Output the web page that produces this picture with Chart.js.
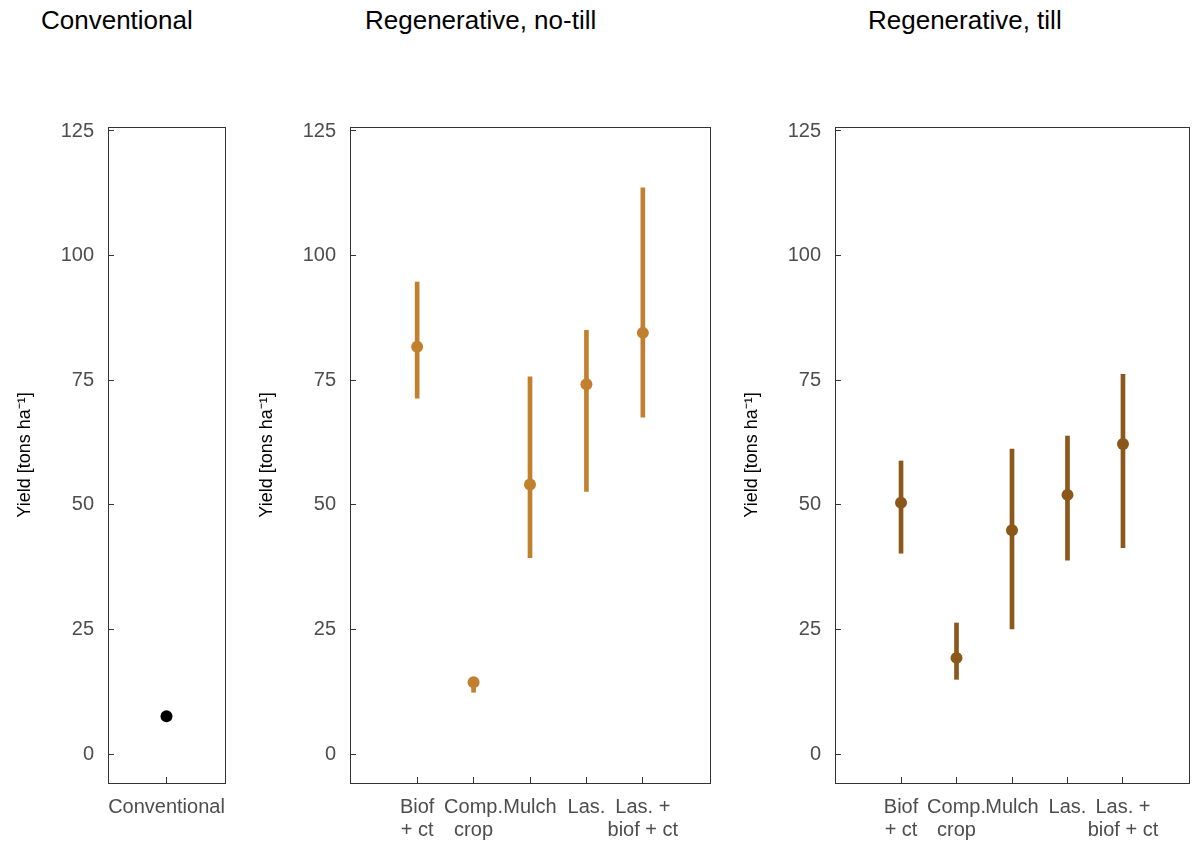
<!DOCTYPE html>
<html>
<head>
<meta charset="utf-8">
<script src="https://cdn.jsdelivr.net/npm/chart.js@4.4.1/dist/chart.umd.min.js"></script>
<style>
  html, body { margin: 0; padding: 0; background: #fff; overflow: hidden; }
  #wrap { position: relative; width: 1192px; height: 843px; overflow: hidden; }
  #wrap canvas { position: absolute; top: 0; }
  .panel-title { position: absolute; top: 5px; font-family: "Liberation Sans", Arial, sans-serif; font-size: 26px; line-height: 30px; color: #000; white-space: nowrap; }
</style>
</head>
<body>
<div id="wrap">
  <div class="panel-title" style="left:41px">Conventional</div>
  <div class="panel-title" style="left:365px">Regenerative, no-till</div>
  <div class="panel-title" style="left:868px">Regenerative, till</div>
  <canvas id="conv" width="240" height="843" style="left:0px"></canvas>
  <canvas id="notill" width="480" height="843" style="left:240px"></canvas>
  <canvas id="till" width="470" height="843" style="left:725px"></canvas>
</div>
<script>
// values
var yTicks = [0, 25, 50, 75, 100, 125];

var convLabels = [['Conventional']];
var convMean = [7.6];

var regenLabels = [['Biof', '+ ct'], ['Comp.', 'crop'], ['Mulch'], ['Las.'], ['Las. +', 'biof + ct']];

var noTillMean = [81.7, 14.4, 54.1, 74.2, 84.5];
var noTillLow = [71.4, 12.4, 39.4, 52.7, 67.6];
var noTillHigh = [94.7, 15.4, 75.7, 85.0, 113.6];

var tillMean = [50.4, 19.3, 44.9, 52.0, 62.2];
var tillLow = [40.3, 15.0, 25.1, 38.9, 41.4];
var tillHigh = [58.8, 26.3, 61.2, 63.8, 76.2];

var convColor = '#000000';
var noTillColor = '#C2802F';
var tillColor = '#8B5819';
var axisColor = '#333333';
var tickColor = '#4d4d4d';
var fontFamily = '"Liberation Sans", Arial, sans-serif';

Chart.defaults.font.family = fontFamily;

// box around each panel (ggplot theme_bw style border)
var panelBox = {
    id: 'panelBox',
    afterDraw: function (chart) {
        var a = chart.chartArea, ctx = chart.ctx;
        ctx.save();
        ctx.strokeStyle = axisColor;
        ctx.lineWidth = 1;
        ctx.strokeRect(Math.round(a.left) + 0.5, Math.round(a.top) + 0.5,
            Math.round(a.right - a.left), Math.round(a.bottom - a.top));
        ctx.restore();
    }
};

function makePanel(id, cfg) {
    var datasets = [];
    datasets.push({
        type: 'scatter',
        data: cfg.mean.map(function (m, i) { return {x: i, y: m}; }),
        backgroundColor: cfg.color,
        pointRadius: 6,
        pointBorderWidth: 0,
        order: 0
    });
    if (cfg.low) {
        datasets.push({
            type: 'bar',
            data: cfg.low.map(function (l, i) { return {x: i, y: [l, cfg.high[i]]}; }),
            backgroundColor: cfg.color,
            barThickness: 4,
            order: 1
        });
    }

    return new Chart(document.getElementById(id), {
        type: 'scatter',
        data: {datasets: datasets},
        plugins: [panelBox],
        options: {
            responsive: false,
            animation: false,
            devicePixelRatio: 1,
            layout: {padding: {top: 127, right: cfg.rightPad, bottom: 0, left: 0}},
            plugins: {legend: {display: false}, tooltip: {enabled: false}},
            scales: {
                x: {
                    type: 'linear',
                    min: cfg.xMin,
                    max: cfg.xMax,
                    offset: false,
                    afterBuildTicks: function (scale) {
                        scale.ticks = cfg.labels.map(function (l, i) { return {value: i}; });
                    },
                    afterFit: function (scale) {
                        // labels may hang past the panel, don't let them squeeze it
                        scale.height = 60;
                        scale.paddingLeft = 0;
                        scale.paddingRight = 0;
                    },
                    grid: {drawOnChartArea: false, offset: false, tickLength: -6, color: axisColor, lineWidth: 1},
                    border: {display: false},
                    ticks: {
                        autoSkip: false,
                        maxRotation: 0,
                        color: tickColor,
                        font: {size: 20, lineHeight: 1.15},
                        padding: 19,
                        callback: function (v, i) { return cfg.labels[i]; }
                    }
                },
                y: {
                    type: 'linear',
                    min: -5.8,
                    max: 125.8,
                    afterBuildTicks: function (scale) {
                        scale.ticks = yTicks.map(function (v) { return {value: v}; });
                    },
                    afterFit: function (scale) {
                        scale.width = cfg.yWidth;
                        scale.paddingTop = 0;
                        scale.paddingBottom = 0;
                    },
                    grid: {drawOnChartArea: false, tickLength: -6, color: axisColor, lineWidth: 1},
                    border: {display: false},
                    ticks: {color: tickColor, font: {size: 20}, padding: 20},
                    title: {
                        display: true,
                        text: 'Yield [tons ha\u207B\u00B9]',
                        color: '#000',
                        font: {size: 18, lineHeight: 1.2},
                        padding: {top: cfg.titlePad, bottom: 0}
                    }
                }
            }
        }
    });
}

makePanel('conv', {
    labels: convLabels, mean: convMean, color: convColor,
    xMin: -0.5, xMax: 0.5, yWidth: 108, rightPad: 15, titlePad: 14
});
makePanel('notill', {
    labels: regenLabels, mean: noTillMean, low: noTillLow, high: noTillHigh, color: noTillColor,
    xMin: -1.19, xMax: 5.19, yWidth: 110, rightPad: 10, titlePad: 16
});
makePanel('till', {
    labels: regenLabels, mean: tillMean, low: tillLow, high: tillHigh, color: tillColor,
    xMin: -1.19, xMax: 5.19, yWidth: 110, rightPad: 1, titlePad: 16
});
</script>
</body>
</html>
